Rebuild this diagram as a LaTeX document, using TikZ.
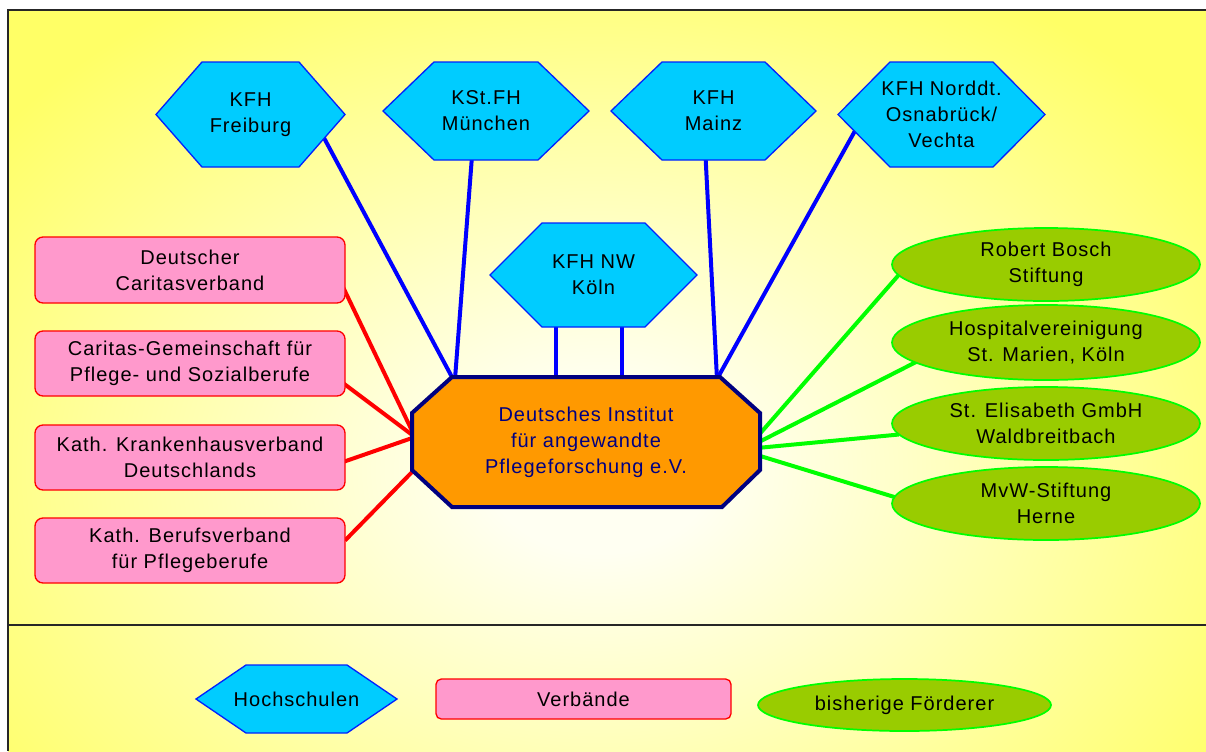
\documentclass[tikz,border=0pt]{standalone}
\usepackage{fontspec}
\setmainfont{Liberation Sans}[LetterSpace=5]
\usetikzlibrary{calc,shapes.geometric}
\definecolor{hexfill}{HTML}{00CCFF}
\definecolor{hexline}{HTML}{0022FF}
\definecolor{pinkfill}{HTML}{FF99CC}
\definecolor{pinkline}{HTML}{FF0000}
\definecolor{grnfill}{HTML}{99CC00}
\definecolor{grnline}{HTML}{00FF00}
\definecolor{octfill}{HTML}{FF9900}
\definecolor{octline}{HTML}{000080}
\definecolor{bgin}{HTML}{FFFFF2}
\definecolor{bgout}{HTML}{FFFF66}
\definecolor{blueline}{HTML}{0000FF}
\pgfdeclarelayer{back}
\pgfdeclarelayer{lines}
\pgfdeclarelayer{shapes}
\pgfsetlayers{back,lines,shapes,main}
\pgfdeclareradialshading{bgshade}{\pgfpoint{0bp}{0bp}}{color(0bp)=(bgin); color(4bp)=(bgin); color(27bp)=(bgout); color(50bp)=(bgout)}
\tikzset{
  lbl/.style={font=\fontsize{15}{19.5}\selectfont, align=center, inner sep=0pt, outer sep=0pt, text=black},
  hexbox/.style={lbl, rectangle, draw=none},
  hexshape/.style={fill=hexfill, draw=hexline, line width=1pt},
  octbox/.style={lbl, rectangle, draw=none, text=octline},
  octshape/.style={fill=octfill, draw=octline, line width=3pt, line join=miter},
  verband/.style={lbl, rectangle, rounded corners=6pt, fill=pinkfill, draw=pinkline, line width=1pt},
  foerderer/.style={lbl, ellipse, fill=grnfill, draw=grnline, line width=1.3pt},
  hline/.style={draw=blueline, line width=3pt},
  rline/.style={draw=pinkline, line width=3pt},
  gline/.style={draw=grnline, line width=3pt},
  frame/.style={draw=black!85, line width=1.5pt}
}
% #1 name, #2 centre, #3 width px, #4 height px, #5 inset px, #6 text
\newcommand\hexa[6]{%
  \node[hexbox, minimum width=#3*0.75pt, minimum height=#4*0.75pt] (#1) at #2 {#6};
  \begin{pgfonlayer}{shapes}
    \path[hexshape] (#1.west) -- ([xshift=#5*0.75pt]#1.north west) -- ([xshift=-#5*0.75pt]#1.north east)
      -- (#1.east) -- ([xshift=-#5*0.75pt]#1.south east) -- ([xshift=#5*0.75pt]#1.south west) -- cycle;
  \end{pgfonlayer}}
\begin{document}
\begin{tikzpicture}[x=0.75pt,y=-0.75pt]
\useasboundingbox (0,0) rectangle (1206,751);
\begin{pgfonlayer}{back}
  \fill[white] (0,0) rectangle (1206,751);
  \begin{scope}
    \clip (8,10) rectangle (1206,751);
    \fill[bgout] (8,10) rectangle (1206,751);
    \shade[shading=bgshade] (-100,-50) rectangle (1300,990);
  \end{scope}
  \draw[frame] (8,751) -- (8,10) -- (1206,10);
  \draw[frame] (8,625) -- (1206,625);
\end{pgfonlayer}

% centre node
\node[octbox, minimum width=348*0.75pt, minimum height=130*0.75pt] (oct) at (586,442)
  {Deutsches Institut\\für angewandte\\Pflegeforschung e.V.};
\begin{pgfonlayer}{shapes}
  \path[octshape] ([xshift=40*0.75pt]oct.north west) -- ([xshift=-40*0.75pt]oct.north east)
    -- ([yshift=-36*0.75pt]oct.north east) -- ([yshift=37*0.75pt]oct.south east)
    -- ([xshift=-38*0.75pt]oct.south east) -- ([xshift=40*0.75pt]oct.south west)
    -- ([yshift=37*0.75pt]oct.south west) -- ([yshift=-36*0.75pt]oct.north west) -- cycle;
\end{pgfonlayer}

% Hochschulen
\hexa{h1}{(250.5,114.5)}{189}{105}{46}{KFH\\Freiburg}
\hexa{h2}{(486,111)}{206}{98}{51}{KSt.FH\\München}
\hexa{h3}{(713.5,111)}{205}{98}{51}{KFH\\Mainz}
\hexa{h4}{(941.5,114.5)}{207}{105}{52}{KFH Norddt.\\Osnabrück/\\Vechta}
\hexa{h5}{(593.5,275)}{207}{104}{52}{KFH NW\\Köln}

% Verbände
\node[verband, minimum width=310*0.75pt, minimum height=66*0.75pt] (v1) at (190,270) {Deutscher\\Caritasverband};
\node[verband, minimum width=310*0.75pt, minimum height=65*0.75pt] (v2) at (190,363.5) {Caritas-Gemeinschaft für\\Pflege- und Sozialberufe};
\node[verband, minimum width=310*0.75pt, minimum height=65*0.75pt] (v3) at (190,457.5) {Kath. Krankenhausverband\\Deutschlands};
\node[verband, minimum width=310*0.75pt, minimum height=65*0.75pt] (v4) at (190,550.5) {Kath. Berufsverband\\für Pflegeberufe};

% Förderer
\node[foerderer, minimum width=308*0.75pt, minimum height=73*0.75pt] (f1) at (1046,264.5) {Robert Bosch\\Stiftung};
\node[foerderer, minimum width=308*0.75pt, minimum height=75*0.75pt] (f2) at (1046,342.5) {Hospitalvereinigung\\St. Marien, Köln};
\node[foerderer, minimum width=308*0.75pt, minimum height=73*0.75pt] (f3) at (1046,423.5) {St. Elisabeth GmbH\\Waldbreitbach};
\node[foerderer, minimum width=308*0.75pt, minimum height=73*0.75pt] (f4) at (1046,503.5) {MvW-Stiftung\\Herne};

% connectors
\begin{pgfonlayer}{lines}
  \draw[hline] ($(h1.south east)+(-22,-31)$) -- ($(oct.north west)+(41,2)$);
  \draw[hline] ($(h2.south)+(-14,-4)$) -- ($(oct.north west)+(43,2)$);
  \draw[hline] ($(h3.south)+(-8,-4)$) -- ($(oct.north east)+(-43,2)$);
  \draw[hline] ($(h4.south west)+(18,-38)$) -- ($(oct.north east)+(-43,2)$);
  \draw[hline] ($(h5.south)+(-37.5,-4)$) -- ($(oct.north west)+(144,2)$);
  \draw[hline] ($(h5.south)+(28.5,-4)$) -- ($(oct.north west)+(210,2)$);

  \draw[rline] ($(v1.east)+(-2,17)$) -- ($(oct.west)+(3,-5)$);
  \draw[rline] ($(v2.east)+(-2,19.5)$) -- ($(oct.west)+(3,-5)$);
  \draw[rline] ($(v3.east)+(-2,4.5)$) -- ($(oct.west)+(3,-5)$);
  \draw[rline] ($(v4.east)+(0,-10)$) -- ($(oct.west)+(3,27)$);

  \draw[gline] ($(oct.east)+(-3,-5)$) -- ($(f1.west)+(8,9)$);
  \draw[gline] ($(oct.east)+(-3,1)$) -- ($(f2.west)+(25,19)$);
  \draw[gline] ($(oct.east)+(-3,6)$) -- ($(f3.west)+(7,11)$);
  \draw[gline] ($(oct.east)+(-3,13)$) -- ($(f4.west)+(4,-6)$);
\end{pgfonlayer}

% legend
\hexa{lh}{(296.5,699)}{201}{68}{50}{Hochschulen}
\node[verband, rounded corners=4pt, minimum width=295*0.75pt, minimum height=40*0.75pt] (lv) at (583.5,699) {Verbände};
\node[foerderer, minimum width=293*0.75pt, minimum height=52*0.75pt] (lf) at (904.5,705) {bisherige Förderer};
\end{tikzpicture}
\end{document}
